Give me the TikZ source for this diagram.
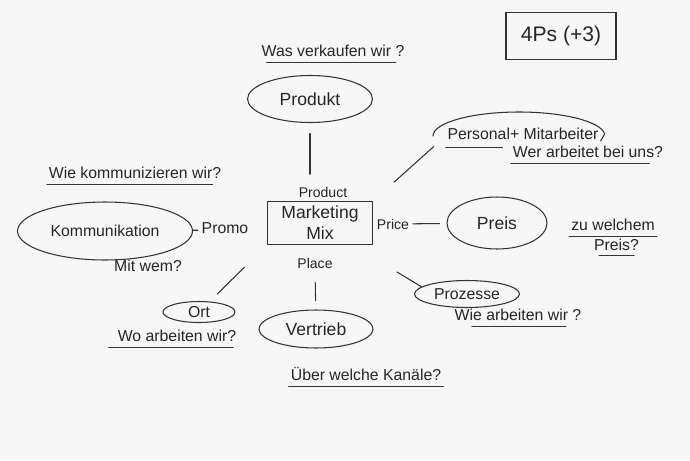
\documentclass[tikz,border=0pt]{standalone}
\usepackage{fontspec}
\setmainfont{Liberation Sans}
\usetikzlibrary{shapes.geometric}
\usetikzlibrary{positioning}

\tikzset{
  pen/.style={draw=black!80,line width=0.6pt,line cap=round},
  bubble/.style={ellipse,pen,inner sep=0pt,text=black!85},
  note/.style={font=\small,text=black!85,inner sep=1pt,text height=6.5pt,text depth=2pt},
  tag/.style={font=\footnotesize,text=black!85,inner sep=1pt},
}

\begin{document}
\begin{tikzpicture}[x=0.02cm,y=-0.02cm]
\fill[black!3] (0,0) rectangle (690,460);
\useasboundingbox (0,0) rectangle (690,460);

% centre box and its four labels
\node[rectangle,pen,minimum width=2.1cm,minimum height=0.86cm,align=center,inner sep=0pt,text=black!85] (mix) at (320,223) {Marketing\\Mix};
\node[tag] (product) at (323,192) {Product};
\node[tag] (place) at (315,263) {Place};
\node[tag] (price) at (393,224) {Price};
\node[note] (promo) at (225,230) {Promo};

% bubbles
\node[bubble,minimum width=2.5cm,minimum height=0.94cm] (produkt) at (310,99) {Produkt};
\node[bubble,minimum width=2.28cm,minimum height=0.76cm] (vertrieb) at (316,329) {Vertrieb};
\node[bubble,minimum width=2.0cm,minimum height=1.04cm] (preis) at (497,223) {Preis};
\node[bubble,font=\small,minimum width=3.5cm,minimum height=1.16cm] (komm) at (105,231) {Kommunikation};
\node[bubble,font=\small,minimum width=1.44cm,minimum height=0.42cm] (ort) at (199,312) {Ort};
\node[bubble,font=\small,minimum width=2.1cm,minimum height=0.54cm] (prozesse) at (467,294) {Prozesse};
\node[note] (personal) at (523,136) {Personal+ Mitarbeiter};
\draw[pen] (433,136) arc[start angle=180,end angle=355,x radius=86,y radius=24] -- ++(-4,7);

% questions
\node[note] (qa) at (333,53) {Was verkaufen wir ?};
\node[note] (qk) at (135,175) {Wie kommunizieren wir?};
\node[note] (qm) at (148,268) {Mit wem?};
\node[note] (qw) at (588,154) {Wer arbeitet bei uns?};
\node[note] (qz1) at (613,227) {zu welchem};
\node[note,below=0pt of qz1,xshift=2pt] (qz2) {Preis?};
\node[note] (qo) at (177,338) {Wo arbeiten wir?};
\node[note] (qp) at (518,317) {Wie arbeiten wir ?};
\node[note] (qv) at (366,377) {Über welche Kanäle?};

\node[rectangle,pen,font=\large,text=black!85,minimum width=2.2cm,minimum height=0.94cm] (fourps) at (561,36) {4Ps (+3)};

% underlines
\draw[pen] ([xshift=4pt]qa.south west) -- ([xshift=-6pt]qa.south east);
\draw[pen] (qk.south west) -- ([xshift=-6pt]qk.south east);
\draw[pen] ([yshift=-1pt]personal.south west) -- ++(57,0);
\draw[pen] (qw.south west) -- ([xshift=-9pt]qw.south east);
\draw[pen] (qz1.south west) -- (qz1.south east);
\draw[pen] ([xshift=4pt]qz2.south west) -- ([xshift=-4pt]qz2.south east);
\draw[pen] ([xshift=-4pt]qo.south west) -- ([xshift=-3pt]qo.south east);
\draw[pen] ([xshift=11pt]qp.south west) -- ([xshift=-10pt]qp.south east);
\draw[pen] (qv.south west) -- (qv.south east);

% connectors
\draw[pen,shorten <=6pt,shorten >=6pt] (produkt.south) -- (produkt.south |- product.north);
\draw[pen,shorten <=7pt,shorten >=5pt] (place) -- (vertrieb);
\draw[pen,shorten <=18pt,shorten >=6pt] (mix.south west) -- (ort);
\draw[pen,shorten <=16pt,shorten >=9pt] (mix.north east) -- (personal.west);
\draw[pen,shorten <=1pt,shorten >=4pt] (price) -- (preis);
\draw[pen,shorten >=1pt] (komm) -- (promo);
\coordinate (pz) at (397,272);
\draw[pen] (pz) -- (prozesse.171);

\end{tikzpicture}
\end{document}
